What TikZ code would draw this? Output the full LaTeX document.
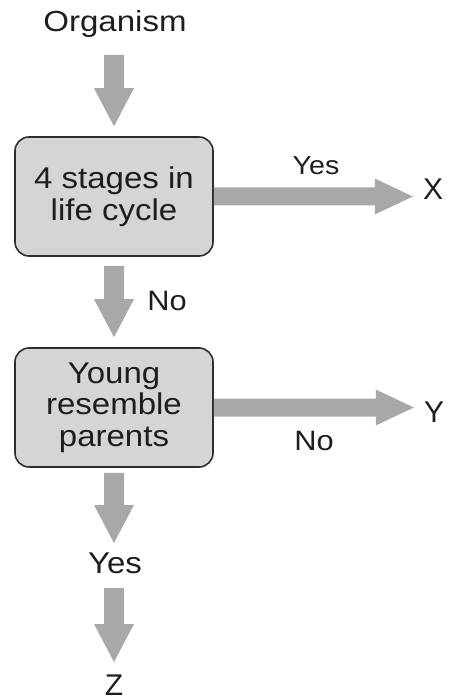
\documentclass[tikz,border=0pt]{standalone}
\usepackage{fontspec}
\setmainfont{Liberation Sans}
\usepackage{graphicx}
\usetikzlibrary{calc}
\definecolor{arrowgray}{HTML}{A7A8AA}
\definecolor{boxfill}{HTML}{D4D5D7}
\definecolor{boxline}{HTML}{2E2E2E}
\definecolor{txt}{HTML}{1E1E1E}
\newcommand\sx[1]{\scalebox{1.1}[1]{#1}}
\newcommand\fatdown[2]{\fill[arrowgray] ($(#1)+(-10,0)$) -- ($(#1)+(10,0)$) -- ($(#2)+(10,-38)$) -- ($(#2)+(20,-38)$) -- (#2) -- ($(#2)+(-20,-38)$) -- ($(#2)+(-10,-38)$) -- cycle;}
\newcommand\fatright[2]{\fill[arrowgray] ($(#1)+(0,-9)$) -- ($(#1)+(0,9)$) -- ($(#2)+(-38,9)$) -- ($(#2)+(-38,18)$) -- (#2) -- ($(#2)+(-38,-18)$) -- ($(#2)+(-38,-9)$) -- cycle;}
\begin{document}
\begin{tikzpicture}[x=1pt,y=-1pt,
  box/.style={rectangle, rounded corners=14pt, draw=boxline, line width=1.6pt, fill=boxfill,
    minimum width=198pt, minimum height=119pt, align=center, inner sep=0pt, text=txt,
    font=\fontsize{30}{31.5}\selectfont},
  lbl/.style={anchor=base, inner sep=0pt, text=txt},
  fs26/.style={font=\fontsize{26}{28}\selectfont},
  fs28/.style={font=\fontsize{28}{30}\selectfont},
  fs29/.style={font=\fontsize{29}{31}\selectfont},
  fs30/.style={font=\fontsize{30}{32}\selectfont}]
\useasboundingbox (0,0) rectangle (450,700);
\node[lbl,fs29] (org) at (115,32) {\scalebox{1.14}[1]{Organism}};
\node[box] (b1) at (114,196.5) {\sx{4 stages in}\\\sx{life cycle}};
\node[box] (b2) at (114,407.5) {\sx{Young}\\\sx{resemble}\\\sx{parents}};
\node[lbl,fs26] (yes1) at (316,175) {\sx{Yes}};
\node[lbl,fs30] (X) at (433,200) {X};
\node[lbl,fs28] (no1) at (167,310) {\sx{No}};
\node[lbl,fs30] (Y) at (434,422) {Y};
\node[lbl,fs28] (no2) at (314,450) {\sx{No}};
\node[lbl,fs30] (yes2) at (115,573) {\sx{Yes}};
\node[lbl,fs30] (Z) at (114,695) {Z};
% connector end points
\coordinate (a1s) at ($(org.base -| b1.north)+(0,23)$);
\coordinate (a1t) at ($(b1.north)+(0,-10)$);
\coordinate (a2s) at ($(b1.south)+(0,9)$);
\coordinate (a2t) at ($(b2.north)+(0,-10)$);
\coordinate (a3s) at ($(b2.south)+(0,5)$);
\coordinate (a3t) at ($(yes2.base -| b2.south)+(0,-30)$);
\coordinate (a4s) at ($(yes2.base -| b2.south)+(0,15)$);
\coordinate (a4t) at ($(Z.base -| b2.south)+(0,-33)$);
\coordinate (hxt) at ($(X.west |- b1.east)+(-10,0)$);
\coordinate (hyt) at ($(Y.west |- b2.east)+(-10,0)$);
\fatdown{a1s}{a1t}
\fatdown{a2s}{a2t}
\fatdown{a3s}{a3t}
\fatdown{a4s}{a4t}
\fatright{b1.east}{hxt}
\fatright{b2.east}{hyt}
\end{tikzpicture}
\end{document}
